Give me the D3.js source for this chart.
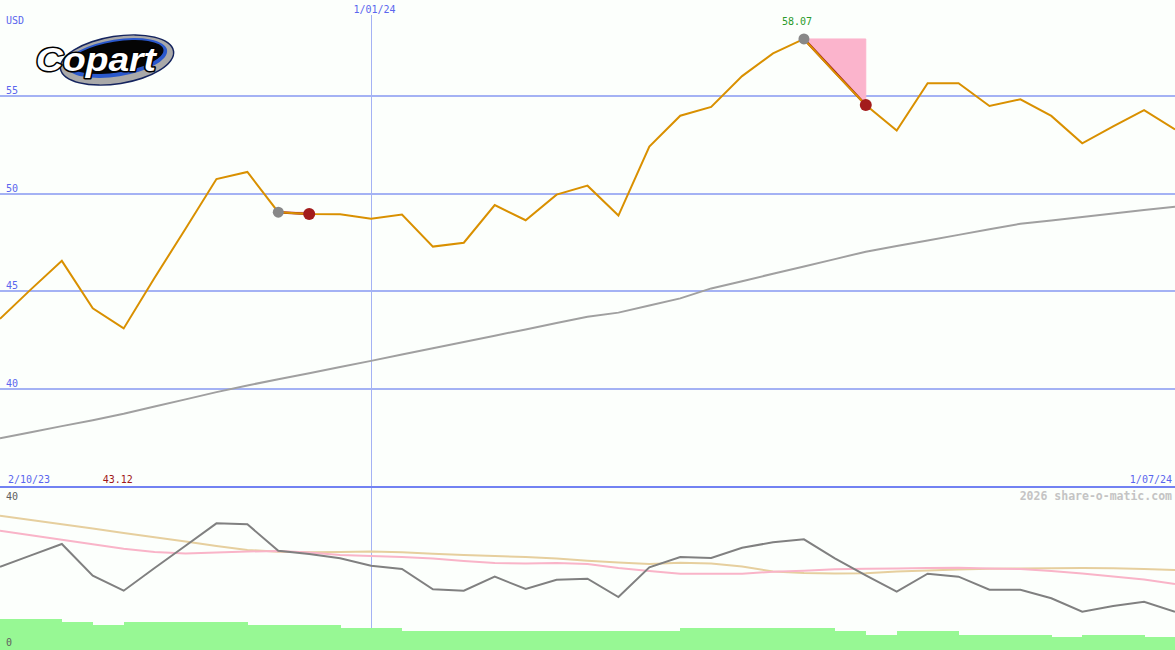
<!DOCTYPE html>
<html>
<head>
<meta charset="utf-8">
<script src="https://cdn.jsdelivr.net/npm/d3@7"></script>
<style>
  html, body { margin: 0; padding: 0; background: #fcfffc; }
  svg { display: block; }
</style>
</head>
<body>
<svg id="chart" width="1175" height="650" font-family="'DejaVu Sans Mono', 'Liberation Mono', monospace"></svg>
<script>
// ---------- DATA ----------
const dates = ["2023-10-09","2023-10-16","2023-10-23","2023-10-30","2023-11-06","2023-11-13","2023-11-20","2023-11-27",
  "2023-12-04","2023-12-11","2023-12-18","2023-12-25","2024-01-01","2024-01-08","2024-01-15","2024-01-22","2024-01-29",
  "2024-02-05","2024-02-12","2024-02-19","2024-02-26","2024-03-04","2024-03-11","2024-03-18","2024-03-25","2024-04-01",
  "2024-04-08","2024-04-15","2024-04-22","2024-04-29","2024-05-06","2024-05-13","2024-05-20","2024-05-27","2024-06-03",
  "2024-06-10","2024-06-17","2024-06-24","2024-07-01"];
const price = [43.59, 45.1, 46.56, 44.13, 43.1, 45.7, 48.2, 50.75, 51.11, 49.05, 48.96, 48.95, 48.72, 48.93, 47.29,
  47.49, 49.42, 48.64, 49.95, 50.41, 48.88, 52.41, 53.99, 54.44, 56.02, 57.18, 57.92, 56.2, 54.54, 53.23, 55.65, 55.65,
  54.49, 54.83, 53.98, 52.58, 53.45, 54.28, 53.29];
const longAvg = [37.48, 37.79, 38.10, 38.40, 38.73, 39.10, 39.47, 39.84, 40.18, 40.50, 40.81, 41.13, 41.44, 41.77, 42.09,
  42.41, 42.73, 43.05, 43.38, 43.70, 43.91, 44.27, 44.64, 45.15, 45.52, 45.90, 46.27, 46.65, 47.03, 47.32, 47.60, 47.89,
  48.18, 48.46, 48.63, 48.81, 48.98, 49.16, 49.33];
const oscillator = [20.57, 23.36, 26.17, 18.35, 14.64, 20.25, 25.75, 31.28, 31.04, 24.52, 23.70, 22.64, 20.81, 20.0,
  14.99, 14.64, 18.10, 15.06, 17.36, 17.60, 13.09, 20.42, 22.96, 22.72, 25.26, 26.59, 27.33, 22.64, 18.44, 14.40, 18.84,
  18.10, 14.89, 14.89, 12.77, 9.46, 10.86, 11.93, 9.46];
const oscAvgPink = [29.46, 28.35, 27.23, 26.12, 25.01, 24.20, 23.83, 24.07, 24.32, 24.44, 24.07, 23.46, 23.21, 22.96,
  22.59, 21.98, 21.48, 21.36, 21.48, 21.23, 20.25, 19.51, 18.84, 18.84, 18.84, 19.33, 19.58, 19.93, 20.07, 20.12, 20.25,
  20.32, 20.12, 20.0, 19.51, 18.89, 18.15, 17.41, 16.30];
const oscAvgTan = [33.16, 32.10, 31.04, 29.98, 28.89, 27.83, 26.77, 25.70, 24.69, 24.27, 24.12, 24.20, 24.32, 24.12,
  23.75, 23.46, 23.21, 22.96, 22.59, 22.05, 21.60, 21.23, 21.56, 21.36, 20.62, 19.38, 19.01, 18.89, 18.94, 19.38, 19.63,
  19.88, 20.05, 20.12, 20.17, 20.25, 20.17, 20.0, 19.75];
const volume = [7.6, 7.6, 6.9, 6.2, 6.9, 6.9, 6.9, 6.9, 6.2, 6.2, 6.2, 5.5, 5.5, 4.7, 4.7, 4.7, 4.7, 4.7, 4.7, 4.7, 4.7,
  4.7, 5.5, 5.5, 5.5, 5.5, 5.5, 4.7, 3.8, 4.7, 4.7, 3.8, 3.8, 3.8, 3.1, 3.8, 3.8, 3.1];
const priceTicks = [40, 45, 50, 55];
const lowerTicks = [0, 40];
const drops = [[9, 10], [26, 28]];      // [from index, to index]
const highIndex = 26, lowIndex = 4;
const highLabel = "58.07", lowLabel = "43.12";
const startLabel = "2/10/23", endLabel = "1/07/24";
const markerDate = "2024-01-01", markerLabel = "1/01/24";
const currency = "USD";
const credit = "2026 share-o-matic.com";
const company = "Copart";

// ---------- SCALES ----------
const W = 1175, H = 650;
const parse = d3.timeParse("%Y-%m-%d");
const dts = dates.map(parse);
const x = d3.scaleTime().domain(d3.extent(dts)).range([0, W]);
const y = d3.scaleLinear().domain([40, 55]).range([389, 96]);
const yl = d3.scaleLinear().domain([0, 40]).range([650, 488]);

const svg = d3.select("#chart");
svg.append("rect").attr("width", W).attr("height", H).attr("fill", "#fcfffc");

const blueText = "#5a66ee";

// vertical marker line
const mx = Math.round(x(parse(markerDate))) + 0.5;
svg.append("line").attr("x1", mx).attr("x2", mx).attr("y1", 15).attr("y2", 650)
  .attr("stroke", "#a4b2f4").attr("stroke-width", 1).attr("shape-rendering", "crispEdges");
svg.append("text").attr("x", mx + 3).attr("y", 13).attr("text-anchor", "middle")
  .attr("font-size", 10).attr("fill", blueText).text(markerLabel);

// price gridlines
priceTicks.forEach(t => {
  const gy = Math.round(y(t));
  svg.append("line").attr("x1", 0).attr("x2", W).attr("y1", gy).attr("y2", gy)
    .attr("stroke", "#a4b2f4").attr("stroke-width", 2).attr("shape-rendering", "crispEdges");
  svg.append("text").attr("x", 6).attr("y", gy - 2).attr("font-size", 10).attr("fill", blueText).text(t);
});
svg.append("text").attr("x", 6).attr("y", 24).attr("font-size", 10).attr("fill", blueText).text(currency);

// logo
const logo = svg.append("g").attr("transform", "translate(117,60) rotate(-9)");
logo.append("ellipse").attr("rx", 58).attr("ry", 24.5).attr("fill", "#14245e");
logo.append("ellipse").attr("rx", 56.5).attr("ry", 23).attr("fill", "#a9a9a9");
logo.append("ellipse").attr("rx", 51).attr("ry", 18.5).attr("cy", -2).attr("fill", "#2a58cc");
logo.append("ellipse").attr("rx", 47.5).attr("ry", 15.5).attr("cy", -3).attr("fill", "#050505");
svg.append("text").attr("x", 36).attr("y", 71)
  .attr("font-family", "'Liberation Sans', Arial, sans-serif").attr("font-weight", "bold").attr("font-style", "italic")
  .attr("font-size", 34).attr("textLength", 120).attr("lengthAdjust", "spacingAndGlyphs")
  .attr("fill", "#ffffff").attr("stroke", "#000").attr("stroke-width", 3).attr("paint-order", "stroke")
  .attr("stroke-linejoin", "round").text(company);

// long moving average
svg.append("path").datum(longAvg)
  .attr("d", d3.line().x((d, i) => x(dts[i])).y(d => y(d)))
  .attr("fill", "none").attr("stroke", "#a0a0a0").attr("stroke-width", 2);

// drop annotations (pink fill + red line)
drops.forEach(([a, b]) => {
  const pts = [[x(dts[a]), y(price[a])], [x(dts[b]), y(price[a])], [x(dts[b]), y(price[b])]];
  svg.append("path").attr("d", d3.line()(pts) + "Z").attr("fill", "#fbb4cc").attr("stroke", "#fbb4cc").attr("stroke-width", 1);
  svg.append("path").attr("d", d3.line()([pts[0], pts[2]]))
    .attr("stroke", "#a01818").attr("stroke-width", 2.5).attr("fill", "none");
});

// price line
svg.append("path").datum(price)
  .attr("d", d3.line().x((d, i) => x(dts[i])).y(d => y(d)))
  .attr("fill", "none").attr("stroke", "#d99000").attr("stroke-width", 2);

// markers
drops.forEach(([a, b]) => {
  svg.append("circle").attr("cx", x(dts[a])).attr("cy", y(price[a])).attr("r", 5.5).attr("fill", "#888888");
  svg.append("circle").attr("cx", x(dts[b])).attr("cy", y(price[b])).attr("r", 6).attr("fill", "#a31c1c");
});

// high / low labels
svg.append("text").attr("x", x(dts[highIndex]) - 22).attr("y", 25).attr("font-size", 10)
  .attr("fill", "#2a9a2a").text(highLabel);
svg.append("text").attr("x", x(dts[lowIndex]) - 21).attr("y", 483).attr("font-size", 10)
  .attr("fill", "#a01818").text(lowLabel);

// date range labels
svg.append("text").attr("x", 8).attr("y", 483).attr("font-size", 10).attr("fill", blueText).text(startLabel);
svg.append("text").attr("x", W - 3).attr("y", 483).attr("text-anchor", "end").attr("font-size", 10)
  .attr("fill", blueText).text(endLabel);

// separator axis
svg.append("line").attr("x1", 0).attr("x2", W).attr("y1", 487).attr("y2", 487)
  .attr("stroke", "#7282f2").attr("stroke-width", 2).attr("shape-rendering", "crispEdges");

// volume bars
svg.append("g").selectAll("rect").data(volume).join("rect")
  .attr("x", (d, i) => x(dts[i])).attr("width", (d, i) => x(dts[i + 1]) - x(dts[i]) + 0.5)
  .attr("y", d => yl(d)).attr("height", d => 650 - yl(d))
  .attr("fill", "#97f894").attr("shape-rendering", "crispEdges");

// lower lines
const lowerLine = d3.line().x((d, i) => x(dts[i])).y(d => yl(d));
svg.append("path").datum(oscAvgTan).attr("d", lowerLine).attr("fill", "none").attr("stroke", "#e6cf9e").attr("stroke-width", 2);
svg.append("path").datum(oscAvgPink).attr("d", lowerLine).attr("fill", "none").attr("stroke", "#f9b4c8").attr("stroke-width", 2);
svg.append("path").datum(oscillator).attr("d", lowerLine).attr("fill", "none").attr("stroke", "#808080").attr("stroke-width", 2);

// lower ticks
svg.append("text").attr("x", 6).attr("y", 500).attr("font-size", 10).attr("fill", "#606060").text(lowerTicks[1]);
svg.append("text").attr("x", 6).attr("y", 646).attr("font-size", 10).attr("fill", "#606060").text(lowerTicks[0]);

// credit
svg.append("text").attr("x", W - 3).attr("y", 500).attr("text-anchor", "end").attr("font-size", 11.5)
  .attr("font-weight", "bold").attr("fill", "#c4c4c4").text(credit);
</script>
</body>
</html>
